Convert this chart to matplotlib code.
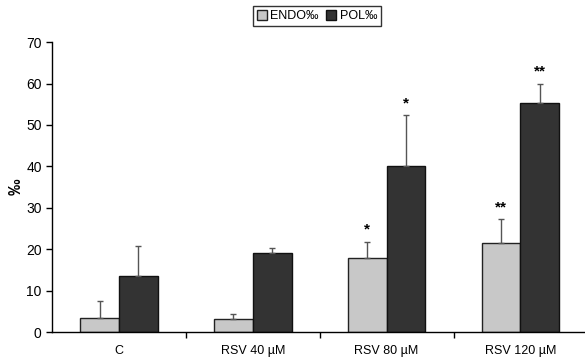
import matplotlib
matplotlib.use("Agg")
import matplotlib.pyplot as plt
import numpy as np

categories = ["C", "RSV 40 µM", "RSV 80 µM", "RSV 120 µM"]
endo = [3.4, 3.1, 17.8, 21.5]
endo_err = [4.1, 1.3, 4.0, 5.8]
pol = [13.5, 19.0, 40.0, 55.3]
pol_err = [7.3, 1.3, 12.3, 4.7]
endo_sig = ["", "", "*", "**"]
pol_sig = ["", "", "*", "**"]
yticks = [0, 10, 20, 30, 40, 50, 60, 70]

plt.rcParams['font.family'] = ['Liberation Sans', 'DejaVu Sans']

fig = plt.figure(figsize=(5.85, 3.63), dpi=100)
ax = fig.add_axes([0.089, 0.085, 0.915, 0.799])

x = np.arange(len(categories))
w = 0.29
ax.bar(x - w/2, endo, w, color="#c8c8c8", edgecolor="#222222", linewidth=1.0, label="ENDO‰", zorder=2)
ax.bar(x + w/2, pol, w, color="#333333", edgecolor="#111111", linewidth=1.0, label="POL‰", zorder=2)
ax.errorbar(x - w/2, endo, yerr=[np.zeros(4), endo_err], fmt="none", ecolor="#555555",
            elinewidth=1.0, capsize=2.5, capthick=1.0, zorder=3)
ax.errorbar(x + w/2, pol, yerr=[np.zeros(4), pol_err], fmt="none", ecolor="#555555",
            elinewidth=1.0, capsize=2.5, capthick=1.0, zorder=3)

for i in range(len(categories)):
    if endo_sig[i]:
        ax.text(x[i] - w/2, endo[i] + endo_err[i] + 1.2, endo_sig[i], ha="center", va="bottom",
                fontsize=11, fontweight="bold")
    if pol_sig[i]:
        ax.text(x[i] + w/2, pol[i] + pol_err[i] + 1.2, pol_sig[i], ha="center", va="bottom",
                fontsize=11, fontweight="bold")

ax.set_xlim(-0.5, len(categories) - 0.5)
ax.set_ylim(0, 70)
ax.set_yticks(yticks)
ax.tick_params(axis="y", labelsize=10, length=4, width=1)
ax.set_xticks(x)
ax.set_xticklabels(categories, fontsize=9)
ax.tick_params(axis="x", length=0, pad=9)
ax.set_xticks(x[:-1] + 0.5, minor=True)
ax.tick_params(axis="x", which="minor", length=4, width=1)
ax.spines["top"].set_visible(False)
ax.spines["right"].set_visible(False)
ax.spines["left"].set_linewidth(1)
ax.spines["bottom"].set_linewidth(1)
ax.set_ylabel("‰", fontsize=12, fontweight="bold", labelpad=2)

fig.legend(loc="upper center", bbox_to_anchor=(0.542, 1.0), ncol=2, fontsize=9,
           frameon=True, fancybox=False, edgecolor="black", handlelength=0.8, handleheight=0.8,
           handletextpad=0.3, columnspacing=0.6, borderpad=0.3)

fig.savefig("out.png", dpi=100)
